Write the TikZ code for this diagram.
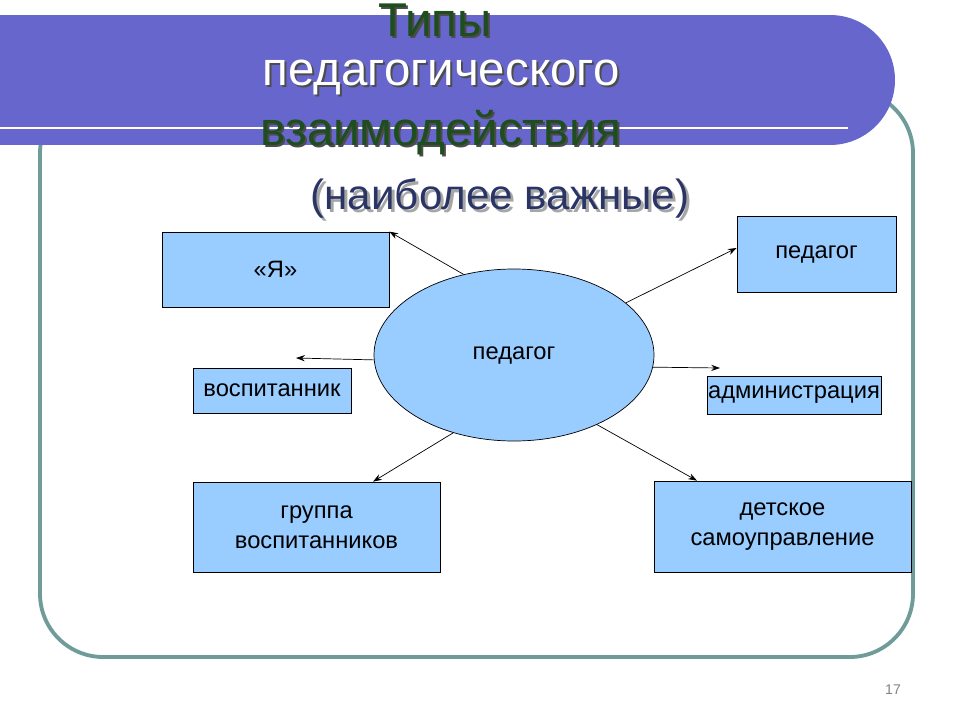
\documentclass[tikz,border=0pt]{standalone}
\usepackage{fontspec}
\setmainfont{Liberation Sans}
\usetikzlibrary{shapes.geometric,arrows.meta}
\definecolor{banner}{HTML}{6666CC}
\definecolor{frame}{HTML}{6F9C9A}
\definecolor{boxfill}{HTML}{99CCFF}
\definecolor{titlegreen}{HTML}{1E4D1E}
\definecolor{subblue}{HTML}{2A3566}
\begin{document}
\begin{tikzpicture}
    [
        x=0.02cm, y=-0.02cm,
        role/.style={rectangle, draw, fill=boxfill, inner sep=0pt, align=center,
            font=\fontsize{13.5}{17}\selectfont},
        link/.style={-{Stealth[length=5pt,width=3.5pt]}, thin},
        heading/.style={font=\fontsize{27}{31}\selectfont},
    ]
    \useasboundingbox (0,0) rectangle (960,720);
    \draw [frame, line width=2.2pt, rounded corners=36pt] (40,90) rectangle (913,657);
    \fill [banner] (0,15) rectangle (830,145);
    \fill [banner] (830,80) circle [radius=1.3cm];
    \draw [white, line width=1.5pt] (0,128) -- (848,128);

    \node (t1s) at (437,22) [heading, black!70] {Типы};
    \node (t1) at (435,20) [heading, titlegreen] {Типы};
    \node (t2s) at (443,79) [heading, black!70] {педагогического};
    \node (t2) at (441,77) [heading, white] {педагогического};
    \node (t3s) at (443,135) [heading, black!70] {взаимодействия};
    \node (t3) at (441,133) [heading, titlegreen] {взаимодействия};
    \node (subs) at (503,201) [heading, font=\fontsize{24}{28}\selectfont, black!35] {(наиболее важные)};
    \node (sub) at (500,198) [heading, font=\fontsize{24}{28}\selectfont, subblue] {(наиболее важные)};

    \node (ell) at (514,355) [ellipse, draw, fill=boxfill, minimum width=280*0.02cm,
        minimum height=172*0.02cm, inner sep=0pt, font=\fontsize{13.5}{17}\selectfont] {педагог};

    \node (ya) at (275.5,269.5) [role, minimum width=227*0.02cm, minimum height=75*0.02cm] {«Я»};
    \node (ped) at (816.5,254) [role, minimum width=159*0.02cm, minimum height=76*0.02cm] {педагог};
    \node (vos) at (272,390.5) [role, minimum width=158*0.02cm, minimum height=45*0.02cm] {воспитанник};
    \node (adm) at (794,395) [role, minimum width=174*0.02cm, minimum height=38*0.02cm] {администрация};
    \node (grp) at (316.5,527) [role, minimum width=247*0.02cm, minimum height=90*0.02cm] {группа\\воспитанников};
    \node (sam) at (782.5,526.5) [role, minimum width=257*0.02cm, minimum height=91*0.02cm] {детское\\самоуправление};

    \coordinate (vosend) at (296,358);
    \coordinate (admend) at (720,368);
    \draw [link] (ell.122) -- (ya.north east);
    \draw [link] (ell.25) -- (ped.west |- 0,248);
    \draw [link] (ell.182) -- (vosend);
    \draw [link] (ell.-5) -- (admend);
    \draw [link] (ell.232) -- (grp.north -| 373,0);
    \draw [link] (ell.320) -- (sam.north -| 697,0);

    \node (num) at (893,690) [gray, font=\fontsize{8}{10}\selectfont] {17};
\end{tikzpicture}
\end{document}
